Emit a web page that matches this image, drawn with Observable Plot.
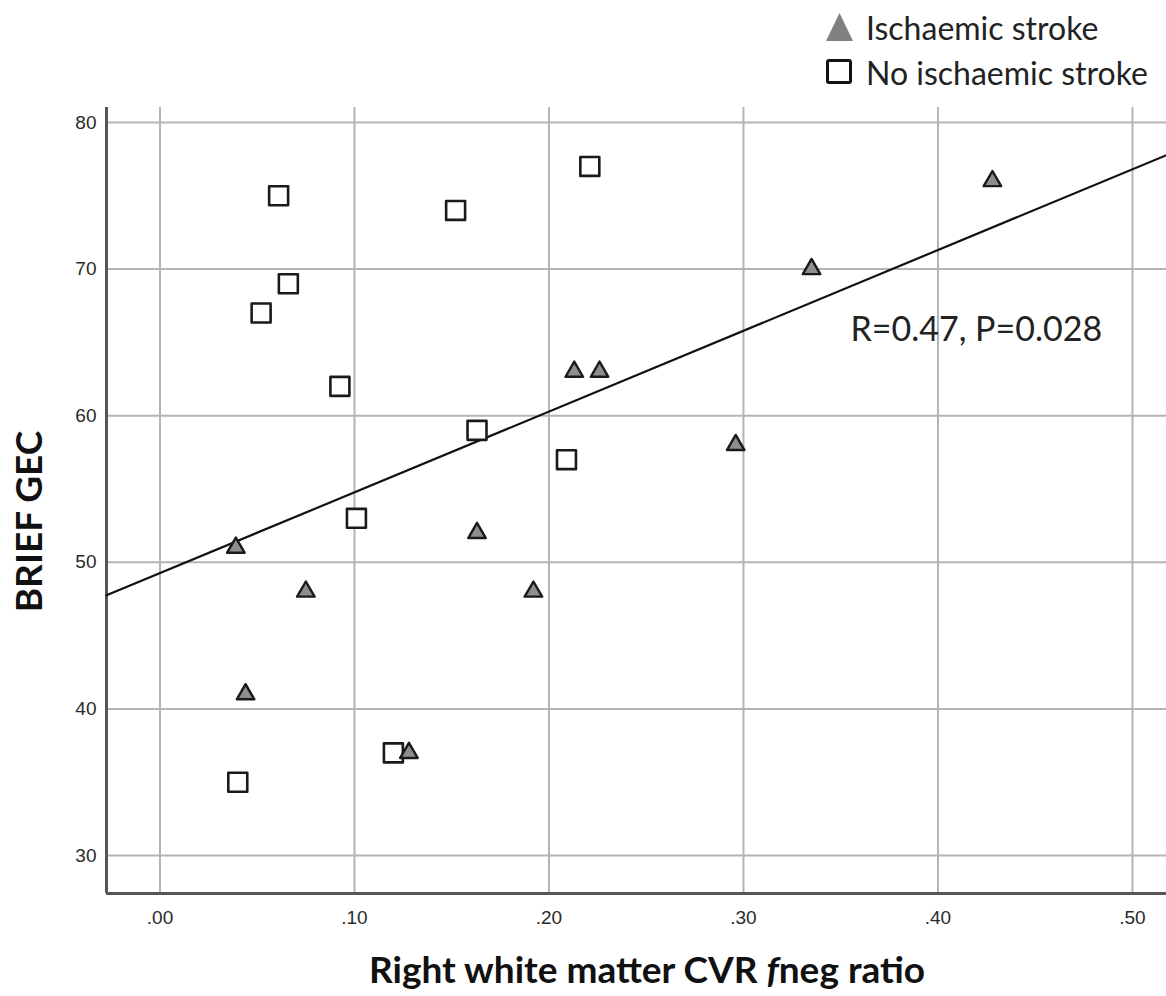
<!DOCTYPE html>
<html>
<head>
<meta charset="utf-8">
<script src="https://cdn.jsdelivr.net/npm/d3@7"></script>
<script src="https://cdn.jsdelivr.net/npm/@observablehq/plot@0.6"></script>
<style>
  body { margin: 0; background: #fff; }
  #wrap { position: relative; width: 1166px; height: 996px; font-family: Lato, "Open Sans", sans-serif; color: #1a1a1a; }
  #legend { position: relative; height: 100px; }
  .lg-item { position: absolute; left: 825px; display: flex; align-items: center; }
  .lg-item span { font-size: 32px; margin-left: 12px; color: #222; white-space: nowrap; }
  #xlabel { position: absolute; left: 369px; top: 946px; font-size: 37px; font-weight: 700; white-space: nowrap; line-height: 46px; color: #111; }
  #chart svg g[aria-label$="tick label"] text { font-size: 19px; }
</style>
</head>
<body>
<div id="wrap">
  <div id="legend"></div>
  <div id="chart"></div>
  <div id="xlabel"></div>
</div>
<script>
// ---- data ----
const groups = ["Ischaemic stroke", "No ischaemic stroke"];
const strokeX = [0.039, 0.044, 0.075, 0.128, 0.163, 0.192, 0.213, 0.226, 0.296, 0.335, 0.428];
const strokeY = [51, 41, 48, 37, 52, 48, 63, 63, 58, 70, 76];
const noStrokeX = [0.061, 0.221, 0.152, 0.066, 0.052, 0.0925, 0.163, 0.209, 0.101, 0.120, 0.040];
const noStrokeY = [75, 77, 74, 69, 67, 62, 59, 57, 53, 37, 35];
const xTicks = [0, 0.1, 0.2, 0.3, 0.4, 0.5];
const yTicks = [30, 40, 50, 60, 70, 80];
const xDomain = [-0.0275, 0.5175];
const yDomain = [27.41, 81.02];
const statsLabel = ["R=0.47, P=0.028"];
const statsPos = { x: 0.355, y: 65.85 };
const yLabel = "BRIEF GEC";
const xLabelParts = ["Right white matter CVR ", "f", "neg ratio"];

// ---- derived tables ----
const strokePts = strokeX.map((x, i) => ({ x, y: strokeY[i], group: groups[0] }));
const noStrokePts = noStrokeX.map((x, i) => ({ x, y: noStrokeY[i], group: groups[1] }));
const allPts = strokePts.concat(noStrokePts);

// least-squares fit over all points
const mx = d3.mean(allPts, d => d.x), my = d3.mean(allPts, d => d.y);
const sxy = d3.sum(allPts, d => (d.x - mx) * (d.y - my));
const sxx = d3.sum(allPts, d => (d.x - mx) ** 2);
const slope = sxy / sxx, intercept = my - slope * mx;
const fit = xDomain.map(x => ({ x, y: intercept + slope * x }));

const fmtX = d => d3.format(".2f")(d).replace(/^0/, "");

const chart = Plot.plot({
  width: 1166,
  height: 850,
  marginTop: 7,
  marginLeft: 106,
  marginRight: 0,
  marginBottom: 57,
  style: { fontFamily: "'Liberation Sans', Arial, sans-serif", fontSize: "19px", color: "#2a2a2a", background: "#fff", overflow: "visible" },
  x: { domain: xDomain },
  y: { domain: yDomain },
  marks: [
    Plot.gridX(xTicks, { stroke: "#b4b4b4", strokeOpacity: 1, strokeWidth: 2 }),
    Plot.gridY(yTicks, { stroke: "#b4b4b4", strokeOpacity: 1, strokeWidth: 2 }),
    Plot.axisX(xTicks, { tickSize: 0, tickPadding: 17, tickFormat: fmtX, label: null, fontSize: 19, fill: "#2a2a2a" }),
    Plot.axisY(yTicks, { tickSize: 0, tickPadding: 10, label: null, fontSize: 19, fill: "#2a2a2a" }),
    Plot.ruleX([xDomain[0]], { stroke: "#555", strokeWidth: 3 }),
    Plot.ruleY([yDomain[0]], { stroke: "#555", strokeWidth: 3 }),
    Plot.line(fit, { x: "x", y: "y", stroke: "#111", strokeWidth: 2.2 }),
    Plot.dot(noStrokePts, { x: "x", y: "y", symbol: "square", r: 10.7, fill: "#fff", stroke: "#1a1a1a", strokeWidth: 2.6, strokeLinejoin: "round" }),
    Plot.dot(strokePts, { x: "x", y: "y", symbol: "triangle", r: 6.5, fill: "#8e8e8e", stroke: "#1a1a1a", strokeWidth: 2.4, strokeLinejoin: "round" }),
    Plot.text(statsLabel, { x: () => statsPos.x, y: () => statsPos.y, text: d => d, textAnchor: "start", lineAnchor: "middle", fontSize: 34, fontFamily: "Lato, sans-serif", fill: "#222" }),
    Plot.text([yLabel], { frameAnchor: "left", text: d => d, rotate: -90, dx: -76, dy: 21, textAnchor: "middle", lineAnchor: "middle", fontSize: 37, fontWeight: 700, fontFamily: "Lato, sans-serif", fill: "#111" })
  ]
});
document.getElementById("chart").appendChild(chart);

// ---- legend ----
const legend = document.getElementById("legend");
const ns = "http://www.w3.org/2000/svg";
groups.forEach((g, i) => {
  const item = document.createElement("div");
  item.className = "lg-item";
  item.style.top = (i === 0 ? 10 : 55) + "px";
  item.style.height = "34px";
  const s = document.createElementNS(ns, "svg");
  s.setAttribute("width", 29); s.setAttribute("height", 30);
  if (i === 0) {
    const p = document.createElementNS(ns, "path");
    p.setAttribute("d", "M14.5,1 L28,29 L1,29 Z");
    p.setAttribute("fill", "#808080");
    s.appendChild(p);
  } else {
    const r = document.createElementNS(ns, "rect");
    r.setAttribute("x", 2.5); r.setAttribute("y", 3.5); r.setAttribute("width", 23); r.setAttribute("height", 22);
    r.setAttribute("rx", 1.5);
    r.setAttribute("fill", "#fff"); r.setAttribute("stroke", "#111"); r.setAttribute("stroke-width", 3);
    s.appendChild(r);
  }
  item.appendChild(s);
  const t = document.createElement("span");
  t.textContent = g;
  item.appendChild(t);
  legend.appendChild(item);
});

// ---- x axis title ----
const xl = document.getElementById("xlabel");
xl.appendChild(document.createTextNode(xLabelParts[0]));
const it = document.createElement("i"); it.textContent = xLabelParts[1]; xl.appendChild(it);
xl.appendChild(document.createTextNode(xLabelParts[2]));
</script>
</body>
</html>
